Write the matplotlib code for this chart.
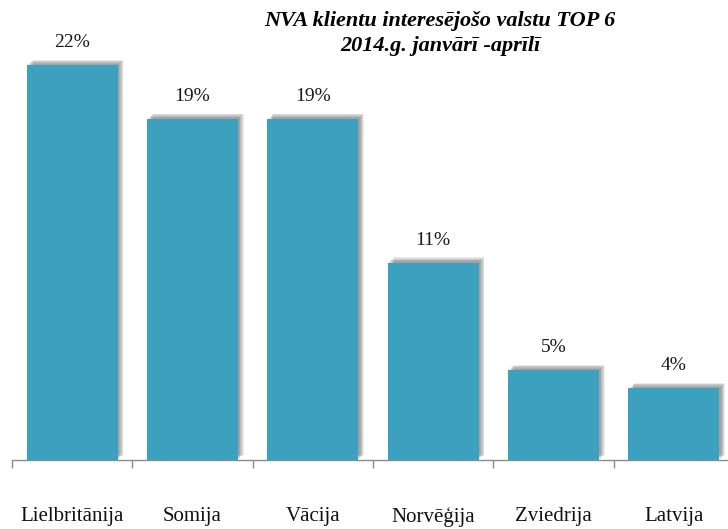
import matplotlib
matplotlib.use("Agg")
import matplotlib.pyplot as plt
import matplotlib.patheffects as pe

# ── Data ─────────────────────────────────────────────────────
countries = ["Lielbritānija", "Somija", "Vācija", "Norvēģija", "Zviedrija", "Latvija"]
shares = [22, 19, 19, 11, 5, 4]

BAR = "#3CA1BF"
AXIS = "#8C8C8C"
SERIF = ["Liberation Serif", "DejaVu Serif"]

fig = plt.figure(figsize=(7.28, 5.29), dpi=100)
ax = fig.add_axes([12 / 728, 69 / 529, 722 / 728, 460 / 529])
ax.set_xlim(-0.5, len(countries) - 0.5)
ax.set_ylim(0, 22 * 460 / 395)

# soft shadow (up-right), faked with stacked offset shadows
shadow = [pe.SimplePatchShadow(offset=(d, d * 0.9), shadow_rgbFace="#404040", alpha=0.1)
          for d in (4.2, 3.6, 3.0, 2.4, 1.8, 1.2)]
bars = ax.bar(range(len(countries)), shares, width=0.755, color=BAR, zorder=3)
for b in bars:
    b.set_path_effects(shadow + [pe.Normal()])

for i, v in enumerate(shares):
    ax.annotate(f"{v}%", (i, v), xytext=(0, 10), textcoords="offset points",
                ha="center", va="bottom", fontsize=14, family=SERIF, color="#1a1a1a")

# axes styling
for s in ("top", "right", "left"):
    ax.spines[s].set_visible(False)
ax.spines["bottom"].set_color(AXIS)
ax.spines["bottom"].set_linewidth(1.0)
ax.set_yticks([])
ax.set_xticks(range(len(countries)))
ax.set_xticklabels(countries, fontsize=15, family=SERIF, color="#111111")
ax.tick_params(axis="x", which="major", length=0, pad=34)
ax.set_xticks([i - 0.5 for i in range(len(countries) + 1)], minor=True)
ax.tick_params(axis="x", which="minor", length=6, color=AXIS, width=1.0)

fig.text(440 / 728, 1 - 21 / 529, "NVA klientu interesējošo valstu TOP 6",
         ha="center", va="center", fontsize=16, family=SERIF,
         fontweight="bold", style="italic")
fig.text(440 / 728, 1 - 46 / 529, "2014.g. janvārī -aprīlī",
         ha="center", va="center", fontsize=16, family=SERIF,
         fontweight="bold", style="italic")

fig.savefig("out.png", dpi=100)
